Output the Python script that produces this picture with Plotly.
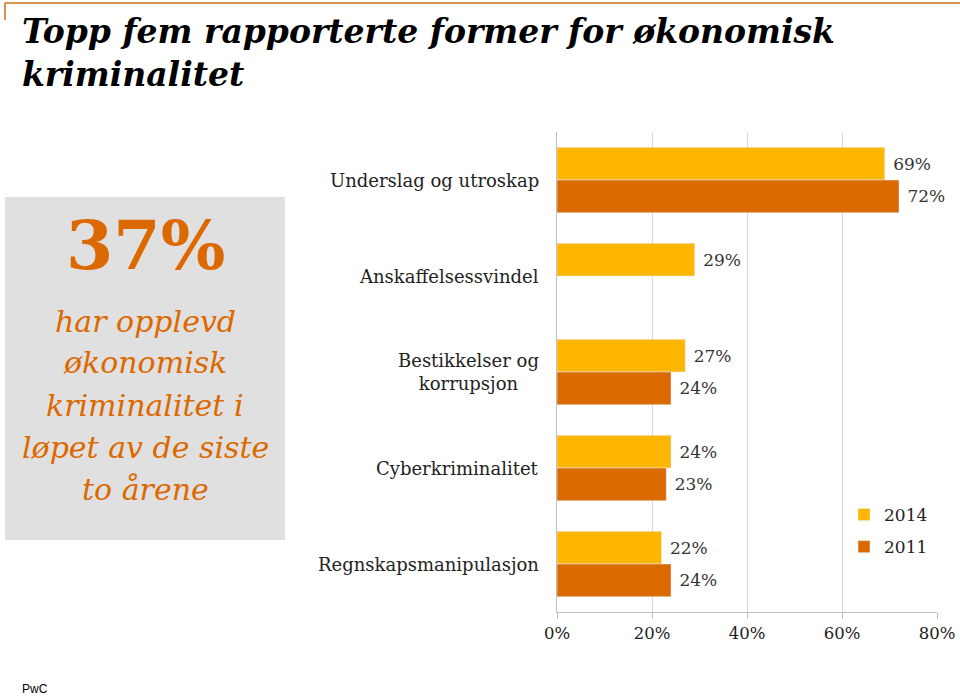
import plotly.graph_objects as go

categories = ["Underslag og utroskap", "Anskaffelsessvindel", "Bestikkelser og korrupsjon",
              "Cyberkriminalitet", "Regnskapsmanipulasjon"]
cat_labels = ["Underslag og utroskap", "Anskaffelsessvindel", "Bestikkelser og<br>korrupsjon",
              "Cyberkriminalitet", "Regnskapsmanipulasjon"]
values_2014 = [69, 29, 27, 24, 22]
values_2011 = [72, None, 24, 23, 24]
tick_vals = [0, 20, 40, 60, 80]
tick_text = ["0%", "20%", "40%", "60%", "80%"]
side_lines = ["har opplevd", "økonomisk", "kriminalitet i", "løpet av de siste", "to årene"]

SERIF = "DejaVu Serif"
C2014 = "#FFB600"
C2011 = "#DC6900"

W, H = 960, 697
x0, x1 = 557, 937
y0, y1 = 132, 612

NB = "\u00a0"

fig = go.Figure()
fig.add_trace(go.Bar(
    y=categories, x=values_2014, name="2014", orientation="h",
    marker_color=C2014, legendgroup="a",
    text=[f"{NB}{v}%" if v is not None else "" for v in values_2014],
    textposition="outside", cliponaxis=False,
    textfont=dict(family=SERIF, size=17, color="#333333"),
))
fig.add_trace(go.Bar(
    y=categories, x=values_2011, name="2011", orientation="h",
    marker_color=C2011, legendgroup="b",
    text=[f"{NB}{v}%" if v is not None else "" for v in values_2011],
    textposition="outside", cliponaxis=False,
    textfont=dict(family=SERIF, size=17, color="#333333"),
))

annotations = []
for c, lab in zip(categories, cat_labels):
    annotations.append(dict(
        x=(x0 - 16) / W, xref="paper", y=c, yref="y", text=lab, showarrow=False,
        xanchor="right", align="center",
        font=dict(family=SERIF, size=18, color="#222222"),
    ))

annotations.append(dict(
    x=20 / W, y=1 - 10 / H, xref="paper", yref="paper", xanchor="left", yanchor="top",
    text="<b><i>Topp fem rapporterte former for økonomisk<br>kriminalitet</i></b>",
    showarrow=False, align="left",
    font=dict(family=SERIF, size=33, color="#000000"),
))
annotations.append(dict(
    x=145 / W, y=1 - 245 / H, xref="paper", yref="paper", xanchor="center", yanchor="middle",
    text="<b>37%</b>", showarrow=False,
    font=dict(family=SERIF, size=68, color=C2011),
))
line_y = [322, 363, 405, 447, 489]
for t, yy in zip(side_lines, line_y):
    annotations.append(dict(
        x=145 / W, y=1 - yy / H, xref="paper", yref="paper", xanchor="center", yanchor="middle",
        text=f"<i>{t}</i>", showarrow=False,
        font=dict(family=SERIF, size=30, color=C2011),
    ))
annotations.append(dict(
    x=20 / W, y=1 - 689 / H, xref="paper", yref="paper", xanchor="left", yanchor="middle",
    text="PwC", showarrow=False,
    font=dict(family="Liberation Sans", size=12, color="#000000"),
))

shapes = [
    dict(type="rect", xref="paper", yref="paper", x0=5 / W, x1=285 / W,
         y0=1 - 540 / H, y1=1 - 197 / H, fillcolor="#E0E0E0", line_width=0, layer="below"),
    dict(type="line", xref="paper", yref="paper", x0=5 / W, x1=1,
         y0=1 - 3 / H, y1=1 - 3 / H, line=dict(color="#D9924E", width=2)),
    dict(type="line", xref="paper", yref="paper", x0=5 / W, x1=5 / W,
         y0=1 - 3 / H, y1=1 - 20 / H, line=dict(color="#D9924E", width=2)),
]

fig.update_layout(
    width=W, height=H,
    margin=dict(l=0, r=0, t=0, b=0, autoexpand=False),
    paper_bgcolor="white", plot_bgcolor="white",
    barmode="group", bargap=0.32, bargroupgap=0,
    showlegend=True,
    legend=dict(x=844 / W, y=1 - 497 / H, xanchor="left", yanchor="top",
                font=dict(family=SERIF, size=17, color="#222222"),
                bgcolor="rgba(0,0,0,0)", tracegroupgap=7, itemwidth=30),
    xaxis=dict(domain=[x0 / W, x1 / W], range=[0, 80], tickvals=tick_vals, ticktext=tick_text,
               showgrid=True, gridcolor="#D9D9D9", gridwidth=1,
               showline=True, linecolor="#BFBFBF", ticks="outside", ticklen=6,
               tickcolor="#BFBFBF", zeroline=False, automargin=False,
               tickfont=dict(family=SERIF, size=16.5, color="#222222")),
    yaxis=dict(domain=[1 - y1 / H, 1 - y0 / H], autorange="reversed",
               showticklabels=False, showline=True, linecolor="#BFBFBF",
               showgrid=False, ticks="", automargin=False),
    annotations=annotations, shapes=shapes,
)

fig.write_html(
    "out.html",
    config={"responsive": False, "displayModeBar": False},
    post_script="document.documentElement.style.margin='0';document.body.style.margin='0';"
                "document.body.style.padding='0';document.body.style.overflow='hidden';"
                "document.documentElement.style.overflow='hidden';",
)
